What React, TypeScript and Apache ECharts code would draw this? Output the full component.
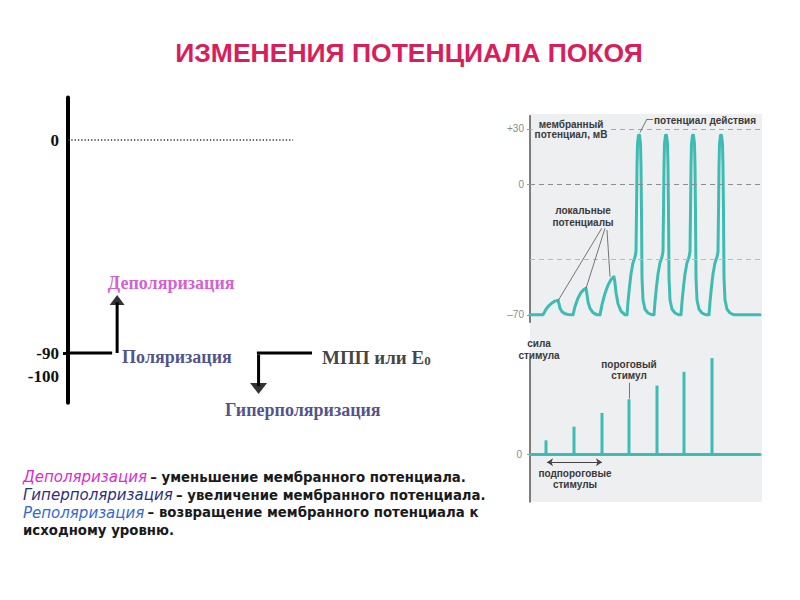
import React, { useEffect, useRef } from "react";
import * as echarts from "echarts";

// ---------- Left schematic: membrane potential levels (mV) ----------
const LEFT_TICK_VALUES = [0, -90, -100];
const LEFT_TICK_MARKS = [-90];
const ZERO_LEVEL = 0;
const REST_LEVEL = -90;
const DEPOL_TIP = -67.6;
const HYPER_TIP = -105;

// ---------- Right panel: membrane potential trace (time, mV) ----------
const RIGHT_TICK_VALUES = [30, 0, -70];
const PEAK_LEVEL = 30;
const THRESHOLD_LEVEL = -40;
const BASELINE_START = [[0, -70], [13, -70]];
const LOCAL_1 = [[16, -67], [19, -65], [22, -63.6], [25, -62.6], [28, -62.2], [29, -64], [30, -66.5], [32, -68.3], [35, -69.4], [40, -70], [43, -70]];
const LOCAL_2 = [[45, -65.5], [48, -61], [51, -58], [54, -56.3], [56, -55.8], [57, -59], [58, -63], [60, -66.5], [63, -68.8], [67, -70], [70, -70]];
const LOCAL_3 = [[72, -64.5], [75, -58.5], [78, -54], [81, -51], [84, -49.5], [85, -53], [86, -58], [88, -64], [91, -68], [95, -70], [97, -70]];
const SPIKE_1 = [[98, -63], [99.5, -55], [101, -48], [103, -42], [105, -38.9], [106, -36], [106.5, -15], [107, 10], [107.5, 22], [108.5, 26.5], [109.5, 26.5], [110.5, 22], [111, 10], [111.5, -15], [112, -50], [113, -62], [115, -67], [118, -69], [122, -70], [124, -70]];
const SPIKE_2 = [[125, -63], [126.5, -55], [128, -48], [130, -42], [132, -38.9], [133, -36], [133.5, -15], [134, 10], [134.5, 22], [135.5, 26.5], [136.5, 26.5], [137.5, 22], [138, 10], [138.5, -15], [139, -50], [140, -62], [142, -67], [145, -69], [149, -70], [151, -70]];
const SPIKE_3 = [[152, -63], [153.5, -55], [155, -48], [157, -42], [159, -38.9], [160, -36], [160.5, -15], [161, 10], [161.5, 22], [162.5, 26.5], [163.5, 26.5], [164.5, 22], [165, 10], [165.5, -15], [166, -50], [167, -62], [169, -67], [172, -69], [176, -70], [179, -70]];
const SPIKE_4 = [[180, -63], [181.5, -55], [183, -48], [185, -42], [187, -38.9], [188, -36], [188.5, -15], [189, 10], [189.5, 22], [190.5, 26.5], [191.5, 26.5], [192.5, 22], [193, 10], [193.5, -15], [194, -50], [195, -62], [197, -67], [200, -69], [204, -70], [230, -70]];

// ---------- Right panel: stimulus strength ----------
const STIM_TIME = [16, 44, 72, 99, 127, 154, 182];
const STIM_STRENGTH = [1, 2, 3, 4, 5, 6, 7];
const THRESHOLD_STIM_INDEX = 3;

const TEAL = "#3EBCB3";
const SERIF = "'Liberation Serif', 'Times New Roman', serif";
const SANS = "'Liberation Sans', Arial, sans-serif";
const WIDE = "'DejaVu Sans', Verdana, sans-serif";

export default function App() {
  const ref = useRef<HTMLDivElement>(null);

  useEffect(() => {
    if (!ref.current) return;
    const chart = echarts.init(ref.current, null, { renderer: "svg" });

    const trace = [
      ...BASELINE_START,
      ...LOCAL_1,
      ...LOCAL_2,
      ...LOCAL_3,
      ...SPIKE_1,
      ...SPIKE_2,
      ...SPIKE_3,
      ...SPIKE_4,
    ];
    const stimuli = STIM_TIME.map((t, i) => [t, STIM_STRENGTH[i]]);
    const thrT = STIM_TIME[THRESHOLD_STIM_INDEX];
    const thrV = STIM_STRENGTH[THRESHOLD_STIM_INDEX];

    const serifLabel = (color: string, size = 18) => ({
      fontFamily: SERIF,
      fontWeight: "bold" as const,
      fontSize: size,
      color,
    });

    const annot = { fontFamily: SANS, fontWeight: "bold" as const, fontSize: 10, fill: "#3a3a3a" };

    const option: any = {
      animation: false,
      backgroundColor: "#ffffff",
      grid: [
        { left: 68, top: 97.4, width: 332, height: 305.3 },
        { left: 530, top: 115.8, width: 230, height: 206.5 },
        { left: 530, top: 359.5, width: 230, height: 142.5 },
      ],
      xAxis: [
        { gridIndex: 0, type: "value", min: 0, max: 100, show: false },
        { gridIndex: 1, type: "value", min: 0, max: 230, show: false },
        {
          gridIndex: 2,
          type: "value",
          min: 0,
          max: 230,
          axisLine: { show: true, onZero: true, lineStyle: { color: TEAL, width: 3 } },
          axisTick: { show: false },
          axisLabel: { show: false },
          splitLine: { show: false },
        },
      ],
      yAxis: [
        {
          gridIndex: 0,
          type: "value",
          min: -111,
          max: 18,
          axisLine: { show: true, lineStyle: { color: "#000", width: 4 } },
          axisTick: { show: true, customValues: LEFT_TICK_MARKS, length: 5, lineStyle: { color: "#000", width: 3 } },
          axisLabel: {
            customValues: LEFT_TICK_VALUES,
            formatter: (v: number) => String(v),
            fontFamily: SERIF,
            fontWeight: "bold",
            fontSize: 17,
            color: "#111",
            margin: 9,
          },
          splitLine: { show: false },
        },
        {
          gridIndex: 1,
          type: "value",
          min: -74,
          max: 37,
          axisLine: { show: true, lineStyle: { color: "#555", width: 1.5 } },
          axisTick: { show: true, customValues: RIGHT_TICK_VALUES, length: 3, lineStyle: { color: "#999" } },
          axisLabel: {
            customValues: RIGHT_TICK_VALUES,
            formatter: (v: number) => (v > 0 ? "+" + v : v < 0 ? "–" + Math.abs(v) : "0"),
            fontFamily: SANS,
            fontSize: 10,
            color: "#8a8a8a",
            margin: 6,
          },
          splitLine: { show: false },
        },
        {
          gridIndex: 2,
          type: "value",
          min: -3.5,
          max: 6.9,
          axisLine: { show: true, lineStyle: { color: "#555", width: 1.5 } },
          axisTick: { show: true, customValues: [0], length: 3, lineStyle: { color: "#999" } },
          axisLabel: {
            customValues: [0],
            formatter: (v: number) => String(v),
            fontFamily: SANS,
            fontSize: 10,
            color: "#8a8a8a",
            margin: 8,
          },
          splitLine: { show: false },
        },
      ],
      series: [
        // ---- left schematic ----
        {
          type: "line",
          xAxisIndex: 0,
          yAxisIndex: 0,
          data: [[0, ZERO_LEVEL], [67.8, ZERO_LEVEL]],
          showSymbol: false,
          lineStyle: { color: "#333", width: 1.3, type: [1.3, 2] },
        },
        {
          type: "line",
          xAxisIndex: 0,
          yAxisIndex: 0,
          data: [[0, REST_LEVEL], [13.3, REST_LEVEL]],
          showSymbol: false,
          lineStyle: { color: "#000", width: 3 },
        },
        {
          type: "line",
          xAxisIndex: 0,
          yAxisIndex: 0,
          data: [[56.9, REST_LEVEL], [73.5, REST_LEVEL]],
          showSymbol: false,
          lineStyle: { color: "#000", width: 3 },
        },
        {
          type: "line",
          xAxisIndex: 0,
          yAxisIndex: 0,
          data: [[14.8, REST_LEVEL], [14.8, DEPOL_TIP - 1]],
          showSymbol: false,
          lineStyle: { color: "#000", width: 3 },
        },
        {
          type: "line",
          xAxisIndex: 0,
          yAxisIndex: 0,
          data: [[57.4, REST_LEVEL - 0.6], [57.4, HYPER_TIP + 1]],
          showSymbol: false,
          lineStyle: { color: "#000", width: 3 },
        },
        {
          type: "scatter",
          xAxisIndex: 0,
          yAxisIndex: 0,
          clip: false,
          data: [
            { value: [14.8, DEPOL_TIP], symbolSize: [15, 10], symbolRotate: 0 },
            { value: [57.4, HYPER_TIP], symbolSize: [17, 11], symbolRotate: 180 },
          ],
          symbol: "triangle",
          itemStyle: { color: "#000" },
        },
        {
          type: "scatter",
          xAxisIndex: 0,
          yAxisIndex: 0,
          clip: false,
          symbolSize: 0,
          label: { show: true, position: "right", distance: 0, align: "left", verticalAlign: "middle" },
          data: [
            { value: [12.0, -60.4], name: "Деполяризация", label: { formatter: "{b}", ...serifLabel("#C935C6") } },
            { value: [16.3, -91.7], name: "Поляризация", label: { formatter: "{b}", ...serifLabel("#24246E") } },
            { value: [47.3, -114.1], name: "Гиперполяризация", label: { formatter: "{b}", ...serifLabel("#24246E") } },
            {
              value: [76.5, -92.1],
              name: "МПП или E",
              label: {
                formatter: "{m|МПП или E}{s|0}",
                rich: {
                  m: { ...serifLabel("#111", 19), lineHeight: 19, verticalAlign: "bottom" },
                  s: { ...serifLabel("#111", 13), lineHeight: 6, verticalAlign: "bottom" },
                },
              },
            },
          ],
        },
        // ---- right: membrane potential ----
        {
          type: "line",
          xAxisIndex: 1,
          yAxisIndex: 1,
          data: trace,
          showSymbol: false,
          z: 3,
          lineStyle: { color: TEAL, width: 3, cap: "round", join: "round" },
          markLine: {
            silent: true,
            symbol: "none",
            label: { show: false },
            data: [
              { yAxis: PEAK_LEVEL, lineStyle: { color: "#B9A0A5", type: [5, 4], width: 1 } },
              { yAxis: 0, lineStyle: { color: "#8d8d8d", type: [5, 4], width: 1 } },
              { yAxis: THRESHOLD_LEVEL, lineStyle: { color: "#E6A3B4", type: [5, 4], width: 1 } },
              [{ coord: [71.7, -23.5] }, { coord: [28.3, -62.2] }],
              [{ coord: [75, -23.5] }, { coord: [56, -55.8] }],
              [{ coord: [77, -24.4] }, { coord: [80, -49.5] }],
              [{ coord: [123, 35.3] }, { coord: [117, 35.3] }],
              [{ coord: [117, 35.3] }, { coord: [110, 28] }],
            ].map((d: any) =>
              Array.isArray(d)
                ? [{ ...d[0], lineStyle: { color: "#555", width: 0.8, type: "solid" } }, d[1]]
                : d
            ),
          },
        },
        // ---- right: stimuli ----
        {
          type: "bar",
          xAxisIndex: 2,
          yAxisIndex: 2,
          data: stimuli,
          barWidth: 3,
          clip: false,
          itemStyle: { color: TEAL },
          markLine: {
            silent: true,
            label: { show: false },
            data: [
              [
                { coord: [thrT, thrV + 1.2], symbol: "none", lineStyle: { color: "#555", width: 0.8, type: "solid" } },
                { coord: [thrT, thrV + 0.05], symbol: "none" },
              ],
              [
                { coord: [17, -0.6], symbol: "arrow", lineStyle: { color: "#444", width: 1, type: "solid" } },
                { coord: [72, -0.6], symbol: "arrow" },
              ],
            ],
            symbolSize: 6,
          },
        },
      ],
      graphic: [
        {
          type: "rect",
          z: -10,
          shape: { x: 530, y: 114, width: 232, height: 388 },
          style: { fill: "#EDEFF1" },
        },
        {
          type: "text",
          x: 409,
          y: 53,
          style: {
            text: "ИЗМЕНЕНИЯ ПОТЕНЦИАЛА ПОКОЯ",
            fontFamily: SANS,
            fontWeight: "bold",
            fontSize: 26.5,
            fill: "#D81E5B",
            align: "center",
            verticalAlign: "middle",
          },
        },
        {
          type: "text",
          x: 571,
          y: 129,
          z: 10,
          style: {
            text: "мембранный\nпотенциал, мВ",
            ...annot,
            lineHeight: 10,
            align: "center",
            verticalAlign: "middle",
            backgroundColor: "#EDEFF1",
            padding: [0, 2],
          },
        },
        {
          type: "text",
          x: 654,
          y: 120,
          z: 10,
          style: { text: "потенциал действия", ...annot, align: "left", verticalAlign: "middle" },
        },
        {
          type: "text",
          x: 583,
          y: 216,
          z: 10,
          style: { text: "локальные\nпотенциалы", ...annot, lineHeight: 12, align: "center", verticalAlign: "middle" },
        },
        {
          type: "text",
          x: 539,
          y: 349,
          z: 10,
          style: { text: "сила\nстимула", ...annot, lineHeight: 12, align: "center", verticalAlign: "middle" },
        },
        {
          type: "text",
          x: 629,
          y: 370,
          z: 10,
          style: { text: "пороговый\nстимул", ...annot, lineHeight: 11, align: "center", verticalAlign: "middle" },
        },
        {
          type: "text",
          x: 575,
          y: 479,
          z: 10,
          style: { text: "подпороговые\nстимулы", ...annot, lineHeight: 11, align: "center", verticalAlign: "middle" },
        },
        {
          type: "text",
          x: 23,
          y: 504,
          style: {
            text:
              "{d|Деполяризация} {t|– уменьшение мембранного потенциала.}\n" +
              "{h|Гиперполяризация} {t|– увеличение мембранного потенциала.}\n" +
              "{r|Реполяризация} {t|– возвращение мембранного потенциала к}\n" +
              "{t|исходному уровню.}",
            verticalAlign: "middle",
            align: "left",
            rich: {
              d: { fontFamily: WIDE, fontStyle: "italic", fontSize: 15, fill: "#D92BCF", lineHeight: 17.8 },
              h: { fontFamily: WIDE, fontStyle: "italic", fontSize: 15, fill: "#2E2E80", lineHeight: 17.8 },
              r: { fontFamily: WIDE, fontStyle: "italic", fontSize: 15, fill: "#3568D4", lineHeight: 17.8 },
              t: { fontFamily: WIDE, fontWeight: "bold", fontSize: 13.3, fill: "#1a1a1a", lineHeight: 17.8 },
            },
          },
        },
      ],
    };

    chart.setOption(option);
    return () => chart.dispose();
  }, []);

  return (
    <div
      ref={ref}
      style={{ position: "fixed", left: 0, top: 0, width: 800, height: 600, background: "#fff" }}
    />
  );
}
